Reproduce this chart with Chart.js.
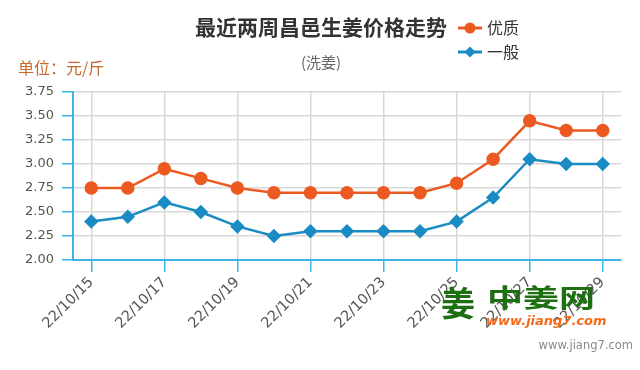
<!DOCTYPE html>
<html lang="zh">
<head>
  <meta charset="UTF-8">
  <title>最近两周昌邑生姜价格走势</title>
  <script src="https://cdn.jsdelivr.net/npm/chart.js@4.4.0/dist/chart.umd.min.js"></script>
  <style>
    body { margin: 0; background: #fff; }
  </style>
</head>
<body>
  <canvas id="mychart" width="640" height="370"></canvas>

  <script type="text/javascript">
    const dates = ['22/10/15','22/10/16','22/10/17','22/10/18','22/10/19','22/10/20','22/10/21','22/10/22',
                   '22/10/23','22/10/24','22/10/25','22/10/26','22/10/27','22/10/28','22/10/29'];
    const youzhi = [2.75, 2.75, 2.95, 2.85, 2.75, 2.70, 2.70, 2.70, 2.70, 2.70, 2.80, 3.05, 3.45, 3.35, 3.35];
    const yiban  = [2.40, 2.45, 2.60, 2.50, 2.35, 2.25, 2.30, 2.30, 2.30, 2.30, 2.40, 2.65, 3.05, 3.00, 3.00];
    const seriesNames = ['优质', '一般'];

    const orange = '#ec5a21';
    const blue = '#1b8bc4';
    const axisBlue = '#3cb4e5';
    const cjk = '"Noto Sans CJK SC", "Noto Sans", sans-serif';

    // titles, legend and watermark drawn straight on the canvas
    const decorations = {
      id: 'decorations',
      afterDraw(chart) {
        const ctx = chart.ctx;
        ctx.save();
        ctx.textBaseline = 'middle';

        ctx.fillStyle = '#333';
        ctx.font = 'bold 21px ' + cjk;
        ctx.textAlign = 'center';
        ctx.fillText('最近两周昌邑生姜价格走势', 321, 27);

        ctx.fillStyle = '#666';
        ctx.font = '15px ' + cjk;
        ctx.fillText('(洗姜)', 321, 62);

        ctx.textAlign = 'left';
        ctx.fillStyle = '#c8682c';
        ctx.font = '16px ' + cjk;
        ctx.fillText('单位：元/斤', 18, 68);

        // legend
        const items = [[seriesNames[0], orange, 'circle'], [seriesNames[1], blue, 'diamond']];
        items.forEach((it, i) => {
          const y = 28 + i * 24;
          ctx.strokeStyle = it[1];
          ctx.fillStyle = it[1];
          ctx.lineWidth = 3;
          ctx.beginPath();
          ctx.moveTo(458, y); ctx.lineTo(482, y); ctx.stroke();
          ctx.beginPath();
          if (it[2] === 'circle') {
            ctx.arc(470, y, 5.5, 0, Math.PI * 2);
          } else {
            ctx.moveTo(470, y - 5.5); ctx.lineTo(475.5, y); ctx.lineTo(470, y + 5.5); ctx.lineTo(464.5, y);
            ctx.closePath();
          }
          ctx.fill();
          ctx.fillStyle = '#333';
          ctx.font = '16px ' + cjk;
          ctx.fillText(it[0], 487, y);
        });

        // watermark
        ctx.fillStyle = '#1d6f12';
        ctx.font = 'bold 34px ' + cjk;
        ctx.fillText('姜', 441, 303);
        ctx.save();
        ctx.translate(487, 297);
        ctx.scale(1.2, 0.85);
        ctx.font = 'bold 30px ' + cjk;
        ctx.fillText('中姜网', 0, 0);
        ctx.restore();
        ctx.fillStyle = '#f26b1d';
        ctx.font = 'italic bold 13px "DejaVu Sans", sans-serif';
        ctx.fillText('www.jiang7.com', 486, 322);

        ctx.fillStyle = '#8a8a8a';
        ctx.font = '11.5px "DejaVu Sans", sans-serif';
        ctx.textAlign = 'right';
        ctx.fillText('www.jiang7.com', 633, 346);
        ctx.restore();
      }
    };

    const data = {
      labels: dates,
      datasets: [{
        label: seriesNames[0],
        data: youzhi,
        borderColor: orange,
        backgroundColor: orange,
        borderWidth: 2.5,
        pointStyle: 'circle',
        pointRadius: 5.5,
        pointHoverRadius: 5.5,
        tension: 0
      }, {
        label: seriesNames[1],
        data: yiban,
        borderColor: blue,
        backgroundColor: blue,
        borderWidth: 2.5,
        pointStyle: 'rectRot',
        pointRadius: 5.5,
        pointHoverRadius: 5.5,
        tension: 0
      }]
    };

    const config = {
      type: 'line',
      data: data,
      plugins: [decorations],
      options: {
        responsive: false,
        animation: false,
        layout: { padding: { top: 92, right: 19, left: 0, bottom: 0 } },
        plugins: {
          legend: { display: false },
          title: { display: false },
          tooltip: { enabled: false }
        },
        scales: {
          x: {
            offset: true,
            afterFit: (scale) => { scale.height = 110; },
            grid: {
              offset: false,
              color: '#d8d8d8',
              lineWidth: 1.5,
              tickColor: axisBlue,
              tickLength: 12
            },
            border: { color: axisBlue, width: 2 },
            ticks: {
              autoSkip: false,
              maxRotation: 45,
              minRotation: 45,
              padding: 2,
              color: '#555',
              font: { family: '"DejaVu Sans", sans-serif', size: 14.5 },
              callback: function (val, i) { return i % 2 === 0 ? this.getLabelForValue(val) : null; }
            }
          },
          y: {
            min: 2.0,
            max: 3.75,
            afterFit: (scale) => { scale.width = 73; },
            grid: {
              color: '#d8d8d8',
              lineWidth: 1.5,
              tickColor: axisBlue,
              tickLength: 11
            },
            border: { color: axisBlue, width: 2 },
            ticks: {
              stepSize: 0.25,
              padding: 8,
              color: '#555',
              font: { family: '"DejaVu Sans", sans-serif', size: 13 },
              callback: (v) => v.toFixed(2)
            }
          }
        }
      }
    };

    new Chart(document.getElementById('mychart'), config);
  </script>
</body>
</html>
